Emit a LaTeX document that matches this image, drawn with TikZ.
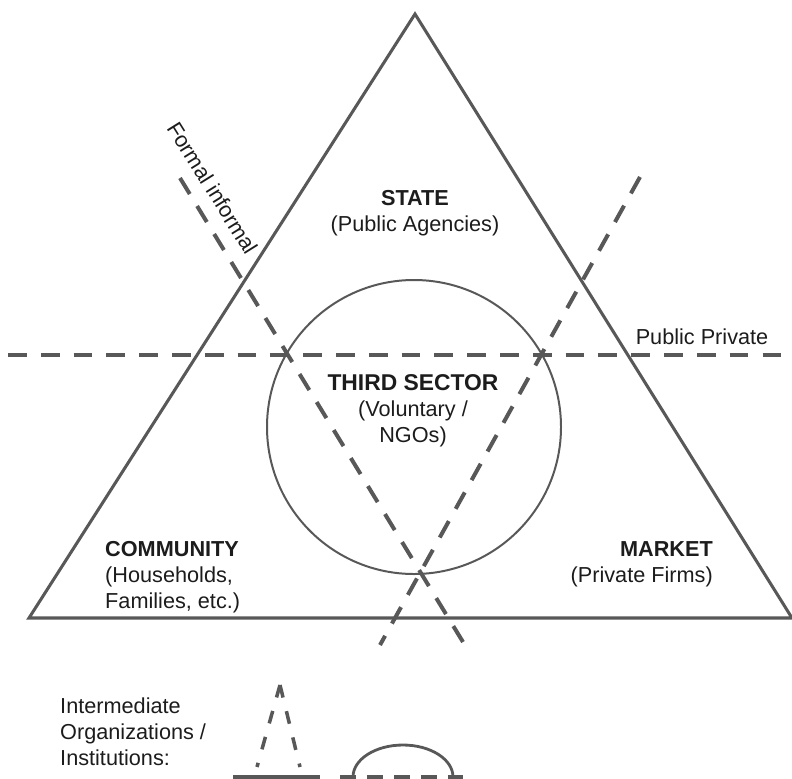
\documentclass[tikz,border=0pt]{standalone}
\usepackage{fontspec}
\setmainfont{Liberation Sans}

\definecolor{LineGrey}{HTML}{585858}
\definecolor{TextInk}{HTML}{1C1C1C}

\tikzset{
    outline/.style={draw=LineGrey, line width=2.6pt, line join=miter},
    ring/.style={draw=LineGrey, line width=1.7pt},
    divide/.style={draw=LineGrey, line width=3.4pt, dash pattern=on 16pt off 12pt},
    sectortext/.style={text=TextInk, font=\fontsize{18.5}{22}\selectfont, inner sep=0pt},
}

\begin{document}
\begin{tikzpicture}[x=0.03cm, y=-0.03cm]
        \useasboundingbox (0,0) rectangle (792,778);

        \coordinate (apex) at (415,14);
        \coordinate (community corner) at (29,618);
        \coordinate (market corner) at (792,618);

        \draw[outline] (apex) -- (community corner) -- (market corner) -- cycle;
        \draw[ring] (414,427) circle[radius=147];

        % dividing lines
        \draw[divide] (8,355) -- (792,355);
        \draw[divide] (180,178) -- (463,642);
        \draw[divide] (640,177) -- (380,645);

        \node[sectortext, rotate=-58] (formal) at (213,188) {Formal informal};
        \node[sectortext] (pubpriv) at (702,337) {Public Private};

        \node[sectortext, align=center] (state) at (415,213) {\textbf{STATE}\\(Public Agencies)};
        \node[sectortext, align=center] (third) at (413,411) {\textbf{\fontsize{19.5}{22}\selectfont THIRD SECTOR}\\(Voluntary /\\NGOs)};
        \node[sectortext, align=left, anchor=west] (community) at (105,577) {\textbf{COMMUNITY}\\(Households,\\Families, etc.)};
        \node[sectortext, align=right, anchor=east] (market) at (713,564) {\textbf{MARKET}\\(Private Firms)};

        % legend
        \node[sectortext, align=left, anchor=west] (legend) at (60,732) {Intermediate\\Organizations /\\Institutions:};
        \coordinate (peak) at (280,685);
        \draw[divide, line width=3pt, dash pattern=on 11pt off 12pt, line join=miter] (peak) -- (257,767);
        \draw[divide, line width=3pt, dash pattern=on 11pt off 12pt, line join=miter] (peak) -- (300,767);
        \draw[outline, line width=3.4pt] (233,777) -- (320,777);
        \draw[ring, line width=2.4pt] (353,777) arc[start angle=180, end angle=360, x radius=50, y radius=32];
        \draw[divide, dash pattern=on 14pt off 9pt] (340,777) -- (463,777);
\end{tikzpicture}
\end{document}
